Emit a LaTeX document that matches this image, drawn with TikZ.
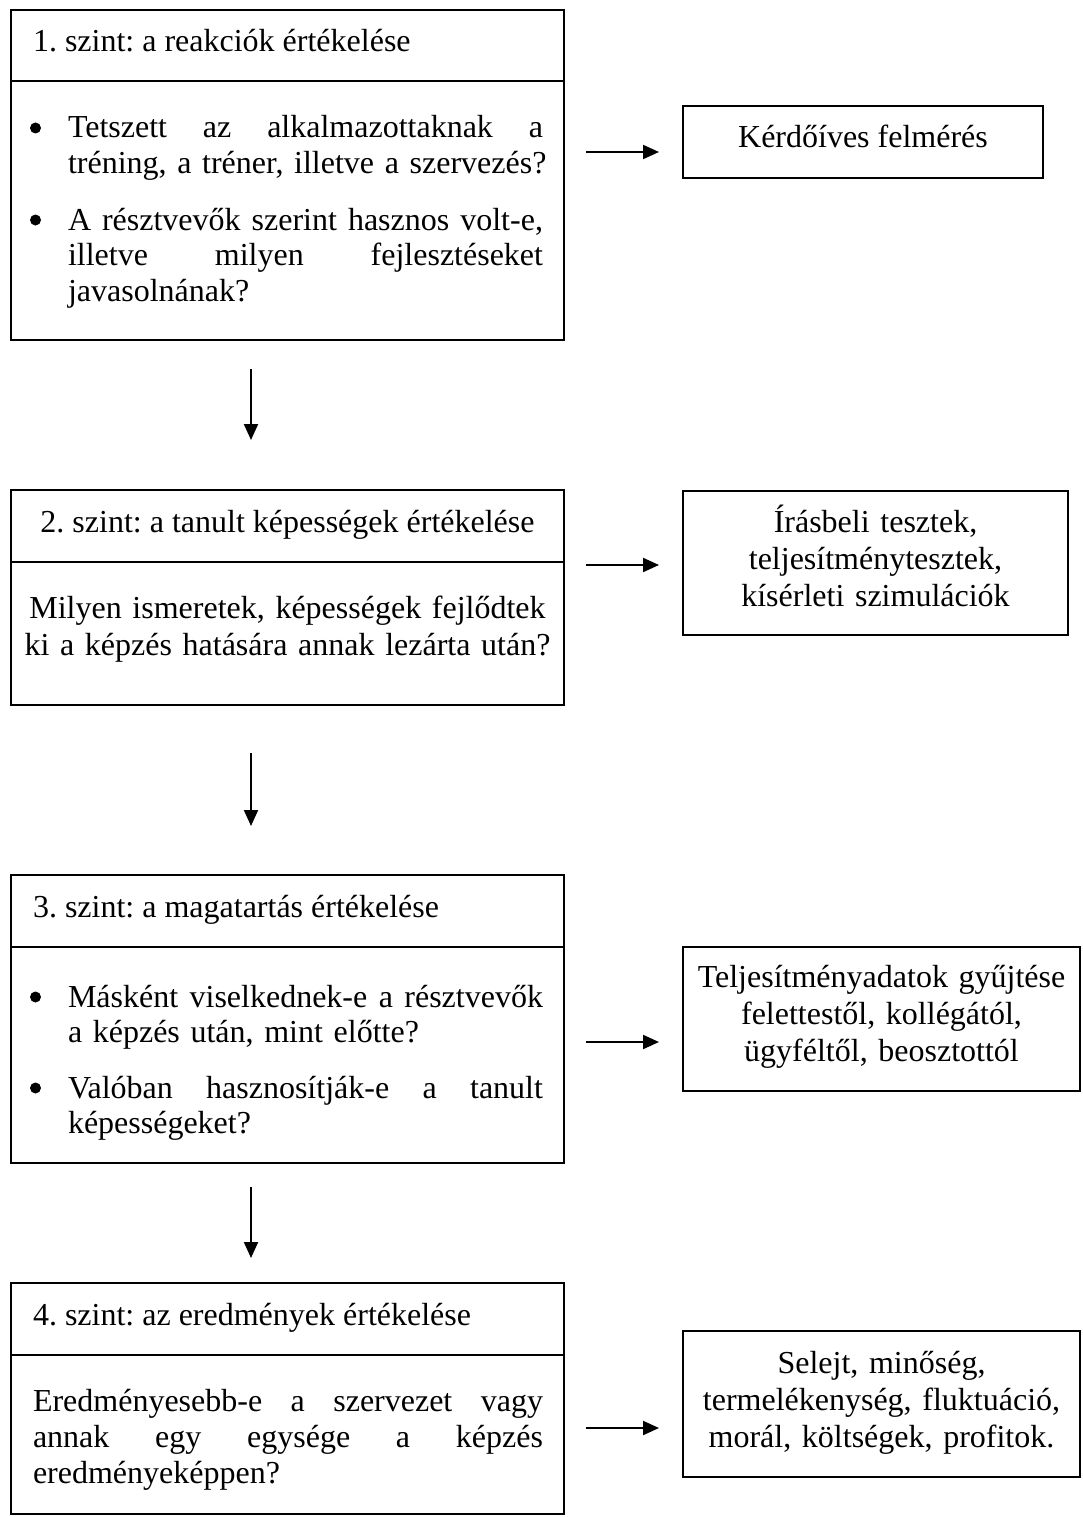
\documentclass[tikz,border=0pt]{standalone}
\usepackage{fontspec}
\setmainfont{Liberation Serif}
\usetikzlibrary{arrows.meta}
\frenchspacing
\newcommand{\jline}[2]{\leavevmode\hbox to #1{#2}}
\begin{document}
\begin{tikzpicture}[x=1pt,y=-1pt,
  box/.style={draw, line width=1.8pt, inner sep=0pt, outer sep=0pt, anchor=north west},
  txt/.style={inner sep=0pt, outer sep=0pt, font=\fontsize{32}{35.5}\selectfont},
  para/.style={txt, anchor=base west, text width=530pt, align=left},
  rtxt/.style={inner sep=0pt, outer sep=0pt, font=\fontsize{32}{37}\selectfont, align=center},
  dot/.style={circle, fill=black, inner sep=0pt, minimum size=11pt},
  sep/.style={line width=1.8pt},
  arr/.style={line width=2.1pt, -{Triangle[length=16pt,width=14pt]}},
  ]
\useasboundingbox (0,0) rectangle (1082,1517);
\fill[white] (0,0) rectangle (1082,1517);

% ---------- left boxes ----------
\node[box, minimum width=553pt, minimum height=330pt] (b1) at (11,10) {};
\draw[sep] (b1.west |- 0,81) -- (b1.east |- 0,81);
\node[box, minimum width=553pt, minimum height=215pt] (b2) at (11,490) {};
\draw[sep] (b2.west |- 0,562) -- (b2.east |- 0,562);
\node[box, minimum width=553pt, minimum height=288pt] (b3) at (11,875) {};
\draw[sep] (b3.west |- 0,947) -- (b3.east |- 0,947);
\node[box, minimum width=553pt, minimum height=231pt] (b4) at (11,1283) {};
\draw[sep] (b4.west |- 0,1355) -- (b4.east |- 0,1355);

% box 1 texts
\node[txt, anchor=base west] (h1) at (33,52) {1. szint: a reakciók értékelése};
\node[dot] (u1a) at (35.5,128) {};
\node[para] (p1a) at (68,138)
  {\jline{475pt}{Tetszett\hfill az\hfill alkalmazottaknak\hfill a}\\tréning, a tréner, illetve a szervezés?};
\node[dot] (u1b) at (35.5,220) {};
\node[para] (p1b) at (68,230)
  {\jline{475pt}{A\hfill résztvevők\hfill szerint\hfill hasznos\hfill volt-e,}\\\jline{475pt}{illetve\hfill milyen\hfill fejlesztéseket}\\javasolnának?};

% box 2 texts
\node[txt, anchor=base] (h2) at (287.5,532) {2. szint: a tanult képességek értékelése};
\node[txt, anchor=base, text width=540pt, align=center, font=\fontsize{32}{37}\selectfont] (p2) at (287.5,618)
  {Milyen ismeretek, képességek fejlődtek\\ki a képzés hatására annak lezárta után?};

% box 3 texts
\node[txt, anchor=base west] (h3) at (33,917) {3. szint: a magatartás értékelése};
\node[dot] (u3a) at (35.5,997) {};
\node[para] (p3a) at (68,1007)
  {\jline{475pt}{Másként\hfill viselkednek-e\hfill a\hfill résztvevők}\\a képzés után, mint előtte?};
\node[dot] (u3b) at (35.5,1088) {};
\node[para] (p3b) at (68,1098)
  {\jline{475pt}{Valóban\hfill hasznosítják-e\hfill a\hfill tanult}\\képességeket?};

% box 4 texts
\node[txt, anchor=base west] (h4) at (33,1325) {4. szint: az eredmények értékelése};
\node[para, font=\fontsize{32}{36}\selectfont] (p4) at (33,1411)
  {\jline{510pt}{Eredményesebb-e\hfill a\hfill szervezet\hfill vagy}\\\jline{510pt}{annak\hfill egy\hfill egysége\hfill a\hfill képzés}\\eredményeképpen?};

% ---------- right boxes ----------
\node[box, minimum width=360pt, minimum height=72pt] (rA) at (683,106) {};
\node[box, minimum width=385pt, minimum height=144pt] (rB) at (683,491) {};
\node[box, minimum width=397pt, minimum height=144pt] (rC) at (683,947) {};
\node[box, minimum width=397pt, minimum height=146pt] (rD) at (683,1331) {};

\node[rtxt, anchor=base] (tA) at (863,148) {Kérdőíves felmérés};
\node[rtxt, anchor=base, text width=380pt] (tB) at (875.5,532)
  {Írásbeli tesztek,\\teljesítménytesztek,\\kísérleti szimulációk};
\node[rtxt, anchor=base, text width=394pt] (tC) at (881.5,987)
  {Teljesítményadatok gyűjtése\\felettestől, kollégától,\\ügyféltől, beosztottól};
\node[rtxt, anchor=base, text width=394pt] (tD) at (881.5,1373)
  {Selejt, minőség,\\termelékenység, fluktuáció,\\morál, költségek, profitok.};

% ---------- arrows ----------
\coordinate (hA1) at (586,152);  \coordinate (hA2) at (659,152);
\coordinate (hB1) at (586,565);  \coordinate (hB2) at (659,565);
\coordinate (hC1) at (586,1042); \coordinate (hC2) at (659,1042);
\coordinate (hD1) at (586,1428); \coordinate (hD2) at (659,1428);
\draw[arr] (hA1) -- (hA2);
\draw[arr] (hB1) -- (hB2);
\draw[arr] (hC1) -- (hC2);
\draw[arr] (hD1) -- (hD2);

\coordinate (v11) at (251,369);  \coordinate (v12) at (251,440);
\coordinate (v21) at (251,753);  \coordinate (v22) at (251,826);
\coordinate (v31) at (251,1187); \coordinate (v32) at (251,1258);
\draw[arr] (v11) -- (v12);
\draw[arr] (v21) -- (v22);
\draw[arr] (v31) -- (v32);
\end{tikzpicture}
\end{document}
